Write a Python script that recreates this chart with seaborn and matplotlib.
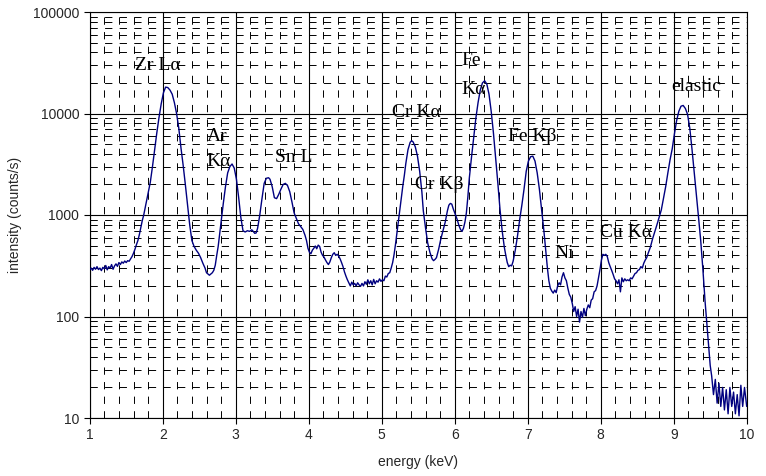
import numpy as np
import pandas as pd
import matplotlib
matplotlib.use("Agg")
import matplotlib.pyplot as plt
import seaborn as sns
from matplotlib.ticker import LogLocator, MultipleLocator, FixedLocator, FixedFormatter

# spectrum (energy in keV, intensity in counts/s)
energy = [
    1.00, 1.02, 1.04, 1.06, 1.08, 1.10, 1.12, 1.14, 1.16, 1.18, 1.20, 1.22, 1.24, 1.26, 1.28,
    1.30, 1.32, 1.34, 1.36, 1.38, 1.40, 1.42, 1.44, 1.46, 1.48, 1.50, 1.52, 1.54, 1.56, 1.58,
    1.60, 1.62, 1.64, 1.66, 1.68, 1.70, 1.72, 1.74, 1.76, 1.78, 1.80, 1.83, 1.86, 1.89, 1.92,
    1.95, 1.98, 2.01, 2.04, 2.07, 2.10, 2.13, 2.16, 2.19, 2.22, 2.25, 2.28, 2.31, 2.34, 2.37,
    2.40, 2.43, 2.46, 2.49, 2.52, 2.55, 2.58, 2.60, 2.62, 2.64, 2.66, 2.68, 2.70, 2.72, 2.74,
    2.76, 2.78, 2.80, 2.83, 2.86, 2.89, 2.92, 2.95, 2.98, 3.01, 3.04, 3.07, 3.10, 3.13, 3.16,
    3.19, 3.22, 3.24, 3.26, 3.28, 3.30, 3.33, 3.36, 3.39, 3.42, 3.45, 3.47, 3.50, 3.53, 3.56,
    3.59, 3.62, 3.65, 3.68, 3.71, 3.74, 3.77, 3.80, 3.83, 3.86, 3.89, 3.92, 3.95, 3.97, 3.99,
    4.01, 4.03, 4.05, 4.07, 4.09, 4.11, 4.13, 4.15, 4.17, 4.19, 4.21, 4.23, 4.25, 4.27, 4.29,
    4.31, 4.33, 4.35, 4.37, 4.39, 4.41, 4.43, 4.45, 4.47, 4.49, 4.51, 4.53, 4.55, 4.57, 4.59,
    4.61, 4.63, 4.65, 4.67, 4.69, 4.71, 4.73, 4.75, 4.77, 4.79, 4.81, 4.83, 4.85, 4.87, 4.89,
    4.91, 4.93, 4.95, 4.97, 4.99, 5.01, 5.03, 5.05, 5.07, 5.09, 5.11, 5.13, 5.15, 5.17, 5.19,
    5.21, 5.23, 5.25, 5.27, 5.29, 5.31, 5.33, 5.36, 5.39, 5.41, 5.43, 5.46, 5.49, 5.52, 5.55,
    5.57, 5.60, 5.63, 5.66, 5.69, 5.71, 5.73, 5.75, 5.78, 5.81, 5.84, 5.87, 5.90, 5.92, 5.94,
    5.96, 5.98, 6.00, 6.03, 6.06, 6.08, 6.10, 6.12, 6.14, 6.16, 6.18, 6.20, 6.23, 6.26, 6.29,
    6.32, 6.35, 6.38, 6.41, 6.44, 6.47, 6.50, 6.53, 6.56, 6.59, 6.62, 6.65, 6.68, 6.70, 6.72,
    6.74, 6.76, 6.78, 6.80, 6.83, 6.86, 6.89, 6.92, 6.95, 6.98, 7.01, 7.04, 7.07, 7.10, 7.13,
    7.16, 7.19, 7.22, 7.25, 7.27, 7.29, 7.31, 7.33, 7.35, 7.37, 7.39, 7.41, 7.43, 7.45, 7.47,
    7.49, 7.51, 7.53, 7.55, 7.57, 7.59, 7.61, 7.63, 7.65, 7.67, 7.69, 7.71, 7.73, 7.75, 7.77,
    7.79, 7.81, 7.83, 7.85, 7.87, 7.89, 7.91, 7.93, 7.95, 7.97, 7.99, 8.01, 8.03, 8.05, 8.07,
    8.09, 8.11, 8.13, 8.15, 8.17, 8.19, 8.21, 8.23, 8.25, 8.27, 8.29, 8.31, 8.33, 8.35, 8.37,
    8.39, 8.41, 8.43, 8.45, 8.47, 8.49, 8.51, 8.53, 8.55, 8.57, 8.59, 8.61, 8.63, 8.65, 8.68,
    8.71, 8.74, 8.77, 8.80, 8.83, 8.86, 8.89, 8.92, 8.95, 8.98, 9.01, 9.04, 9.07, 9.10, 9.13,
    9.16, 9.19, 9.22, 9.25, 9.28, 9.31, 9.34, 9.37, 9.40, 9.43, 9.46, 9.48, 9.50, 9.52, 9.545,
    9.57, 9.595, 9.62, 9.645, 9.67, 9.695, 9.72, 9.745, 9.77, 9.795, 9.82, 9.845, 9.87, 9.895, 9.92,
    9.945, 9.97, 10.00,
]
counts = [
    290, 300, 285, 305, 292, 310, 290, 300, 283, 305, 295, 318, 288, 310, 300,
    325, 292, 315, 330, 312, 340, 325, 345, 335, 352, 340, 355, 350, 370, 390,
    420, 460, 510, 560, 640, 750, 880, 1000, 1180, 1400, 1640, 2100, 3000, 4400, 6500,
    9200, 12500, 16000, 18200, 18000, 17000, 15500, 12800, 10000, 7200, 4600, 3100, 2000, 1250, 800,
    560, 490, 450, 420, 380, 335, 300, 270, 262, 255, 262, 270, 285, 320, 400,
    490, 650, 860, 1300, 1900, 2600, 3000, 3180, 2900, 2250, 1500, 950, 700, 680, 700,
    690, 715, 690, 660, 665, 740, 1000, 1450, 2050, 2300, 2330, 2250, 1900, 1480, 1450,
    1600, 1800, 2000, 2050, 1950, 1700, 1350, 1050, 930, 820, 770, 720, 630, 560, 470,
    430, 415, 450, 470, 495, 465, 505, 490, 430, 400, 385, 360, 340, 325, 345,
    380, 410, 425, 400, 410, 395, 370, 340, 310, 275, 250, 230, 215, 200, 218,
    205, 212, 200, 215, 205, 198, 212, 200, 220, 208, 230, 210, 225, 205, 232,
    210, 225, 218, 235, 222, 230, 225, 250, 245, 265, 270, 300, 340, 410, 520,
    680, 900, 1150, 1500, 1950, 2450, 3200, 4400, 5200, 5400, 5250, 4700, 3800, 2700, 1700,
    1100, 750, 530, 430, 370, 355, 365, 380, 460, 580, 700, 850, 1100, 1250, 1300,
    1280, 1150, 1050, 920, 780, 720, 690, 740, 850, 1050, 1500, 2300, 3700, 5800, 9000,
    12800, 17000, 20000, 21000, 19500, 15500, 10500, 6500, 3700, 2100, 1150, 700, 480, 400, 340,
    310, 320, 315, 350, 450, 620, 900, 1250, 1800, 2700, 3400, 3750, 3800, 3400, 2600,
    1800, 1150, 720, 420, 300, 225, 190, 178, 170, 182, 172, 200, 215, 205, 245,
    270, 240, 225, 190, 165, 155, 135, 112, 125, 100, 118, 88, 112, 98, 120,
    102, 118, 130, 122, 145, 150, 175, 180, 200, 240, 290, 360, 410, 400, 410,
    390, 340, 310, 285, 260, 235, 225, 210, 230, 175, 240, 220, 235, 225, 230,
    225, 240, 235, 250, 265, 270, 285, 290, 310, 300, 335, 360, 380, 420, 480,
    580, 680, 800, 950, 1120, 1450, 1900, 2600, 3500, 4500, 6300, 8500, 10500, 11800, 12000,
    11200, 9800, 7200, 4500, 2700, 1650, 950, 560, 290, 140, 75, 50, 33, 26, 17,
    24, 14, 22, 13, 20, 12, 19, 11, 20, 13, 18, 11, 17, 10.5, 21,
    13, 20, 13,
]

# peak labels: (text, energy of left edge, intensity at text centre)
peak_labels = ["Zr L\u03b1", "Ar", "K\u03b1", "Sn L", "Cr K\u03b1", "Cr K\u03b2",
               "Fe", "K\u03b1", "Fe K\u03b2", "Ni", "Cu K\u03b1", "elastic"]
label_x = [1.62, 2.60, 2.60, 3.54, 5.14, 5.46, 6.09, 6.09, 6.73, 7.36, 7.99, 8.96]
label_y = [30000, 6000, 3400, 3650, 10200, 1980, 33000, 17300, 5900, 415, 670, 18300]

y_ticks = [10, 100, 1000, 10000, 100000]
y_tick_labels = ["10", "100", "1000", "10000", "100000"]
x_ticks = list(range(1, 11))

sns.set_style("ticks")
plt.rcParams["font.family"] = ["Liberation Sans", "DejaVu Sans"]

df = pd.DataFrame({"energy": energy, "counts": counts})

fig = plt.figure(figsize=(7.66, 4.76), dpi=100)
ax = fig.add_axes([89.7 / 766, 1 - 418 / 476, 657 / 766, 406 / 476])

sns.lineplot(data=df, x="energy", y="counts", ax=ax, color="#000080",
             linewidth=1.0, sort=False, estimator=None, zorder=3)

ax.set_yscale("log")
ax.set_xlim(1, 10)
ax.set_ylim(10, 100000)

ax.yaxis.set_major_locator(FixedLocator(y_ticks))
ax.yaxis.set_major_formatter(FixedFormatter(y_tick_labels))
ax.yaxis.set_minor_locator(LogLocator(base=10, subs=np.arange(2, 10)))
ax.xaxis.set_major_locator(FixedLocator(x_ticks))
ax.xaxis.set_minor_locator(MultipleLocator(0.2))

ax.grid(which="major", color="black", linewidth=0.8, linestyle="-")
ax.grid(which="minor", color="black", linewidth=0.7, linestyle=(0, (7.5, 7.5)))
ax.set_axisbelow(True)

ax.tick_params(which="major", direction="out", length=4, width=0.8,
               labelsize=10, color="black")
ax.tick_params(which="minor", length=0)
for sp in ax.spines.values():
    sp.set_color("black")
    sp.set_linewidth(0.8)

ax.set_xlabel("energy (keV)", fontsize=10, labelpad=9)
ax.set_ylabel("intensity (counts/s)", fontsize=10, labelpad=8)

for txt, lx, ly in zip(peak_labels, label_x, label_y):
    ax.text(lx, ly, txt, fontsize=14, family=["Liberation Serif", "DejaVu Serif"],
            ha="left", va="center", color="black", zorder=4)

plt.savefig("out.png", dpi=100)
